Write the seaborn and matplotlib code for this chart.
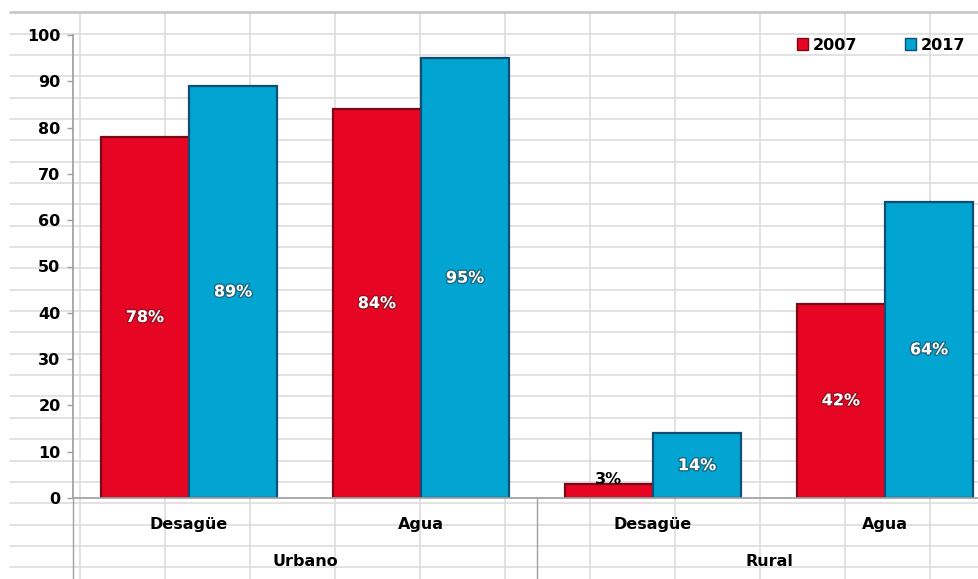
import numpy as np
import pandas as pd
import seaborn as sns
import matplotlib.pyplot as plt
import matplotlib.patheffects as pe
from matplotlib.patches import Patch
from matplotlib.transforms import blended_transform_factory

# Datos (porcentaje de cobertura)
zonas = ['Urbano', 'Urbano', 'Rural', 'Rural']
servicios = ['Desagüe', 'Agua', 'Desagüe', 'Agua']
grupos = ['Urbano', 'Rural']
anios = ['2007', '2017']
valores_2007 = [78, 84, 3, 42]
valores_2017 = [89, 95, 14, 64]

colores = ['#E60523', '#02A4D2']
bordes = ['#7A0A16', '#0C4E74']

claves = [f'{z} {s}' for z, s in zip(zonas, servicios)]
df = pd.DataFrame({
    'Clave': claves * 2,
    'Año': [anios[0]] * 4 + [anios[1]] * 4,
    'Valor': valores_2007 + valores_2017,
})

sns.set_theme(style='white')
plt.rcParams['font.family'] = ['DejaVu Sans']
plt.rcParams['text.color'] = 'black'
plt.rcParams['xtick.labelcolor'] = 'black'
plt.rcParams['ytick.labelcolor'] = 'black'

fig = plt.figure(figsize=(9.79, 5.79), dpi=100)

# fondo: cuadrícula de la hoja de cálculo
bg = fig.add_axes([0, 0, 1, 1])
bg.set_xlim(0, 979)
bg.set_ylim(579, 0)
bg.axis('off')
for y in np.arange(33.5, 579, 21.35):
    bg.plot([10, 979], [y, y], color='#DDDDDD', lw=1.2)
for x in np.arange(80, 979, 85):
    bg.plot([x, x], [12, 579], color='#DDDDDD', lw=1.2)
bg.plot([10, 979], [12, 12], color='#C8C8C8', lw=2)

# gráfico de barras
ax = fig.add_axes([73 / 979, 81 / 579, 928 / 979, 463 / 579])
ax.patch.set_alpha(0)
sns.barplot(data=df, x='Clave', y='Valor', hue='Año', order=claves,
            hue_order=anios, palette=colores, width=0.76, saturation=1,
            legend=False, ax=ax)

for cont, borde, vals in zip(ax.containers, bordes, [valores_2007, valores_2017]):
    for bar in cont:
        bar.set_edgecolor(borde)
        bar.set_linewidth(1.6)
    textos = ax.bar_label(cont, labels=[f'{v}%' for v in vals], label_type='center',
                          color='white', fontweight='bold', fontsize=11.5)
    for t, v in zip(textos, vals):
        if v < 5:
            t.set_color('black')
            t.xyann = (0, 8)
        else:
            t.set_path_effects([pe.withStroke(linewidth=2, foreground='#3a2020', alpha=0.45)])

ax.set_xlim(-0.5, 3.5)
ax.set_ylim(0, 100)
ax.set_yticks(range(0, 101, 10))
ax.set_xticks(range(len(servicios)))
ax.set_xticklabels(servicios)
ax.set_xlabel('')
ax.set_ylabel('')

for lab in ax.get_yticklabels() + ax.get_xticklabels():
    lab.set_fontweight('bold')
ax.tick_params(axis='y', length=4, width=1, color='#A0A0A0', left=True,
               labelsize=11.5, pad=5, labelcolor='black')
ax.tick_params(axis='x', length=0, labelsize=11.5, pad=14, labelcolor='black')

sns.despine(ax=ax, top=True, right=True)
ax.spines['left'].set_color('#A0A0A0')
ax.spines['bottom'].set_color('#A0A0A0')

# etiquetas de grupo y separadores
trans = blended_transform_factory(ax.transData, ax.transAxes)
for i, g in enumerate(grupos):
    ax.text(2 * i + 0.5, -0.138, g, transform=trans, ha='center', va='center',
            fontsize=11.5, fontweight='bold', color='black', clip_on=False)
for xs in [-0.5, 1.5, 3.5]:
    ax.plot([xs, xs], [0, -0.18], transform=trans, color='#A0A0A0', lw=1,
            clip_on=False)

handles = [Patch(facecolor=c, edgecolor=b) for c, b in zip(colores, bordes)]
fig.legend(handles, anios, loc='center right', bbox_to_anchor=(980 / 979, 1 - 45 / 579),
           ncol=2, frameon=False, handlelength=0.7, handleheight=0.7,
           handletextpad=0.3, columnspacing=3.0,
           prop={'weight': 'bold', 'size': 11.5})

fig.savefig('out.png', dpi=100)
plt.close(fig)
